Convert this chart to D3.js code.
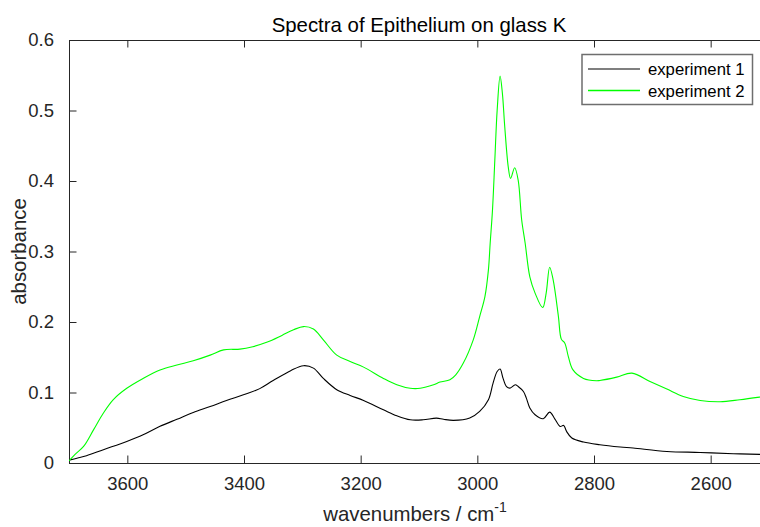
<!DOCTYPE html>
<html>
<head>
<meta charset="utf-8">
<script src="https://cdn.jsdelivr.net/npm/d3@7"></script>
<style>
  html, body { margin: 0; padding: 0; background: #fff; }
  svg { display: block; font-family: "Liberation Sans", Arial, Helvetica, sans-serif; }
</style>
</head>
<body>
<svg id="chart" width="760" height="527"></svg>
<script>
// Wavenumber grid (cm^-1) and absorbance for each experiment
const wn1 = [3700, 3685, 3670, 3641, 3601, 3573, 3544, 3515, 3487, 3458, 3430, 3401, 3373, 3350,
  3320, 3298, 3281, 3264, 3241, 3218, 3195, 3161, 3138, 3115, 3093, 3070, 3058, 3041, 3013, 2996, 2981, 2973,
  2966, 2961, 2956, 2950, 2944, 2935, 2930, 2921, 2916, 2910, 2901, 2887, 2876, 2867, 2858, 2852, 2847,
  2838, 2818, 2790, 2755, 2733, 2675, 2618, 2561, 2516, 2500];
const abs1 = [0.004, 0.007, 0.0103, 0.0189, 0.0306, 0.040, 0.052, 0.062, 0.0717, 0.080, 0.0887, 0.0967,
  0.1055, 0.117, 0.131, 0.138, 0.1346, 0.120, 0.104, 0.0958, 0.0887, 0.0755, 0.067, 0.0613, 0.0613, 0.0637,
  0.062, 0.0604, 0.0637, 0.0731, 0.0897, 0.1133, 0.1298, 0.1332, 0.1204, 0.1085, 0.1062, 0.111, 0.1085,
  0.1014, 0.092, 0.078, 0.0684, 0.0628, 0.0722, 0.0623, 0.0519, 0.0533, 0.0448, 0.0354, 0.0297, 0.0259,
  0.0227, 0.0212, 0.0164, 0.015, 0.0132, 0.0122, 0.0118];

const wn2 = [3700, 3690, 3675, 3658, 3641, 3624, 3601, 3573, 3544, 3515, 3487, 3458, 3435, 3407, 3385,
  3360, 3335, 3315, 3298, 3281, 3264, 3241, 3218, 3195, 3161, 3138, 3115, 3098, 3075, 3064, 3047,
  3037, 3024, 3007, 2996, 2987, 2981, 2978, 2974, 2970, 2966, 2961, 2957, 2953, 2947, 2943, 2936, 2930,
  2924, 2918, 2910, 2901, 2888, 2882, 2876, 2870, 2861, 2856, 2850, 2844, 2836, 2818, 2796, 2790, 2761,
  2735, 2704, 2675, 2647, 2618, 2584, 2550, 2516, 2500];
const abs2 = [0.003, 0.012, 0.0235, 0.047, 0.071, 0.090, 0.106, 0.120, 0.132, 0.139, 0.145, 0.153, 0.1605,
  0.1615, 0.165, 0.1715, 0.181, 0.189, 0.1935, 0.190, 0.1747, 0.153, 0.144, 0.136, 0.120, 0.111,
  0.106, 0.106, 0.111, 0.1148, 0.118, 0.125, 0.1417, 0.1747, 0.2077, 0.236, 0.274, 0.3117, 0.359, 0.4297,
  0.5005, 0.5487, 0.524, 0.477, 0.420, 0.4037, 0.4188, 0.4013, 0.345, 0.3117, 0.264, 0.241, 0.2205, 0.241,
  0.2777, 0.2597, 0.2077, 0.1757, 0.170, 0.151, 0.132, 0.120, 0.1166, 0.117, 0.1218, 0.1275, 0.1156,
  0.1048, 0.0944, 0.0887, 0.0868, 0.0897, 0.0935, 0.0955];

const seriesNames = ["experiment 1", "experiment 2"];
const seriesColors = ["#000000", "#00ff00"];
const xTicks = [3600, 3400, 3200, 3000, 2800, 2600];
const yTicks = [0, 0.1, 0.2, 0.3, 0.4, 0.5, 0.6];

const titleText = "Spectra of Epithelium on glass K";
const yLabelText = "absorbance";

const svg = d3.select("#chart");
const m = { left: 69, top: 40, right: 769, bottom: 463 };
const axisColor = "#262626";
const tickFont = 18.5, labelFont = 20.4, legendFont = 16.7;

const x = d3.scaleLinear().domain([3700, 2500]).range([m.left, m.right]);
const y = d3.scaleLinear().domain([0, 0.6]).range([m.bottom, m.top]);

svg.append("defs").append("clipPath").attr("id", "plotClip")
  .append("rect").attr("x", m.left).attr("y", m.top)
  .attr("width", m.right - m.left).attr("height", m.bottom - m.top);

// Axes: ticks point inward, box drawn on all sides
const bottomAxis = d3.axisBottom(x).tickValues(xTicks).tickSizeInner(-7.5).tickSizeOuter(0)
  .tickPadding(14).tickFormat(d3.format("d"));
const gx = svg.append("g").attr("transform", `translate(0,${m.bottom})`).call(bottomAxis);
const topAxis = d3.axisTop(x).tickValues(xTicks).tickSizeInner(-7.5).tickSizeOuter(0).tickFormat("");
const gxt = svg.append("g").attr("transform", `translate(0,${m.top})`).call(topAxis);
const leftAxis = d3.axisLeft(y).tickValues(yTicks).tickSizeInner(-7.5).tickSizeOuter(0)
  .tickPadding(15).tickFormat(d => d === 0 ? "0" : d3.format(".1f")(d));
const gy = svg.append("g").attr("transform", `translate(${m.left},0)`).call(leftAxis);

[gx, gxt, gy].forEach(g => {
  g.selectAll(".domain").attr("stroke", axisColor).attr("stroke-width", 1);
  g.selectAll(".tick line").attr("stroke", axisColor).attr("stroke-width", 1);
  g.selectAll(".tick text").attr("fill", axisColor).attr("font-size", tickFont)
    .attr("font-family", "Liberation Sans, Arial, sans-serif");
});

// Spectra lines
const line = d3.line()
  .x(d => x(d[0])).y(d => y(d[1]))
  .curve(d3.curveCatmullRom.alpha(0.5));

const series = [d3.zip(wn1, abs1), d3.zip(wn2, abs2)];
svg.append("g").attr("clip-path", "url(#plotClip)")
  .selectAll("path").data(series).join("path")
  .attr("d", line)
  .attr("fill", "none")
  .attr("stroke", (d, i) => seriesColors[i])
  .attr("stroke-width", 1.1)
  .attr("stroke-linejoin", "round");

// Title and axis labels
svg.append("text").attr("x", (m.left + m.right) / 2).attr("y", 32)
  .attr("text-anchor", "middle").attr("font-size", labelFont).attr("fill", "#000")
  .text(titleText);

const xl = svg.append("text").attr("x", (m.left + m.right) / 2 - 4).attr("y", 521)
  .attr("text-anchor", "middle").attr("font-size", labelFont).attr("fill", axisColor);
xl.append("tspan").text("wavenumbers / cm");
xl.append("tspan").attr("dy", -9).attr("font-size", 14).text("-1");

svg.append("text")
  .attr("transform", `translate(25.5,${(m.top + m.bottom) / 2}) rotate(-90)`)
  .attr("text-anchor", "middle").attr("font-size", labelFont).attr("fill", axisColor)
  .text(yLabelText);

// Legend
const lg = svg.append("g");
lg.append("rect").attr("x", 582).attr("y", 54.5).attr("width", 170.5).attr("height", 50)
  .attr("fill", "#fff").attr("stroke", "#6e6e6e").attr("stroke-width", 1.5);
seriesNames.forEach((name, i) => {
  const cy = 69 + i * 21.5;
  lg.append("line").attr("x1", 588).attr("x2", 640).attr("y1", cy).attr("y2", cy)
    .attr("stroke", seriesColors[i]).attr("stroke-width", i === 1 ? 1.6 : 1.1);
  lg.append("text").attr("x", 648).attr("y", cy + 6).attr("font-size", legendFont)
    .attr("fill", "#000").text(name);
});
</script>
</body>
</html>
